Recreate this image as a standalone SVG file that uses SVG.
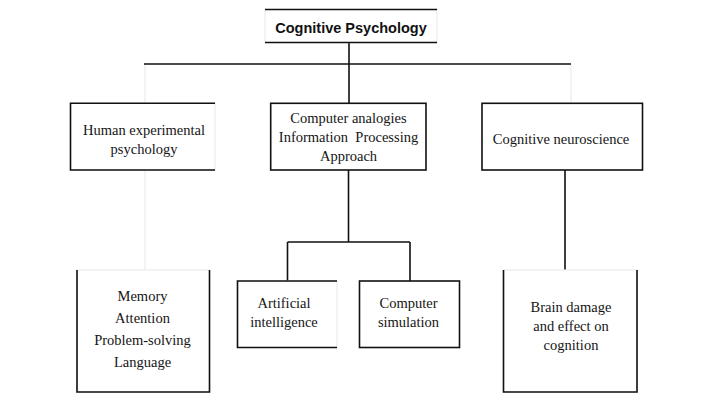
<svg xmlns="http://www.w3.org/2000/svg" width="720" height="405" viewBox="0 0 720 405">
<style>
.bg{fill:#ffffff}
.faint{fill:none;stroke:#ececec;stroke-width:1.2}
.edge{fill:none;stroke:#111111;stroke-width:1.6}
.box{fill:#ffffff;stroke:#111111;stroke-width:1.6}
.boxf{fill:#ffffff;stroke:#ececec;stroke-width:1.2}
.t{font-size:14.5px;fill:#151515;text-anchor:middle}
.title{font-size:14.5px;font-weight:bold;fill:#111111;text-anchor:middle}
</style>
<rect class="bg" x="0" y="0" width="720" height="405"/>
<g id="connectors">
  <path class="faint" d="M145 64 V103 M145 170 V270 M571 64 V103"/>
  <path class="edge" d="M349 42.5 V103 M144 64 H571 M565 170 V270 M348.5 170 V242 M287.5 242 H410 M287.5 242 V281 M410 242 V281"/>
</g>
<g id="node-root" font-family="Liberation Sans, Arial, sans-serif">
  <rect class="boxf" x="265" y="9.5" width="172" height="33"/>
  <path class="edge" d="M265 9.5 H437 M265 42.5 H437"/>
  <text class="title" x="351" y="33">Cognitive Psychology</text>
</g>
<g font-family="Liberation Serif, DejaVu Serif, Times New Roman, serif">
<g id="node-human">
  <rect class="boxf" x="70.5" y="103.3" width="144.5" height="66.7"/>
  <path class="edge" d="M215 103.3 H70.5 V170 H215"/>
  <text class="t" x="144" y="135">Human experimental</text>
  <text class="t" x="144" y="154">psychology</text>
</g>
<g id="node-computer">
  <rect class="box" x="270.7" y="103.3" width="155.3" height="66.7"/>
  <text class="t" x="348.5" y="122.5">Computer analogies</text>
  <text class="t" x="348.5" y="141.5" xml:space="preserve">Information  Processing</text>
  <text class="t" x="348.5" y="160.5">Approach</text>
</g>
<g id="node-neuro">
  <rect class="box" x="482" y="103.3" width="160.5" height="66.7"/>
  <text class="t" x="561" y="143.5">Cognitive neuroscience</text>
</g>
<g id="node-memory">
  <rect class="boxf" x="77" y="270" width="132.5" height="122"/>
  <path class="edge" d="M77 270 V392 H209.5 V270"/>
  <text class="t" x="142.5" y="301">Memory</text>
  <text class="t" x="142.5" y="323">Attention</text>
  <text class="t" x="142.5" y="345">Problem-solving</text>
  <text class="t" x="142.5" y="367">Language</text>
</g>
<g id="node-ai">
  <rect class="boxf" x="237.5" y="281" width="99.5" height="66.5"/>
  <path class="edge" d="M337 281 H237.5 V347.5 H337"/>
  <text class="t" x="284" y="308">Artificial</text>
  <text class="t" x="284" y="327">intelligence</text>
</g>
<g id="node-sim">
  <rect class="box" x="359.5" y="281" width="100" height="66.5"/>
  <text class="t" x="408.5" y="308">Computer</text>
  <text class="t" x="408.5" y="327">simulation</text>
</g>
<g id="node-brain">
  <rect class="boxf" x="503.5" y="270" width="133.5" height="122"/>
  <path class="edge" d="M503.5 270 V392 H637 V270"/>
  <text class="t" x="571" y="312">Brain damage</text>
  <text class="t" x="571" y="331">and effect on</text>
  <text class="t" x="571" y="350">cognition</text>
</g>
</g>
</svg>
